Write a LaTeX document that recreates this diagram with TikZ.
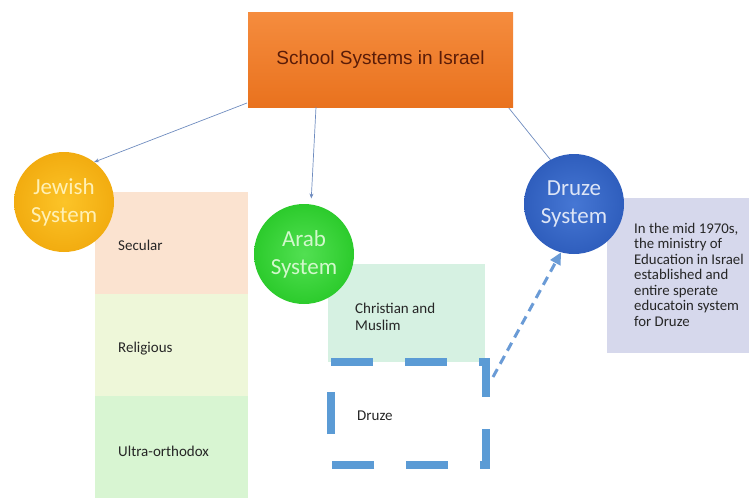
\documentclass[tikz,border=0pt]{standalone}
\usepackage{fontspec}
\setmainfont{Carlito}
\newfontfamily\arialf{Liberation Sans}
\usetikzlibrary{arrows.meta,calc,backgrounds}
\definecolor{topA}{HTML}{F58C3E}
\definecolor{topB}{HTML}{E9721E}
\definecolor{toptext}{HTML}{5A1C08}
\definecolor{secfill}{HTML}{FBE3D0}
\definecolor{relfill}{HTML}{EEF7D9}
\definecolor{ultfill}{HTML}{D8F5D2}
\definecolor{chrfill}{HTML}{D6F1E2}
\definecolor{infofill}{HTML}{D6D8EC}
\definecolor{jewA}{HTML}{FCC428}
\definecolor{jewB}{HTML}{F2AC10}
\definecolor{jewtext}{HTML}{FFF0B4}
\definecolor{arabA}{HTML}{52E052}
\definecolor{arabB}{HTML}{2CCB2C}
\definecolor{arabtext}{HTML}{D2F8CC}
\definecolor{druA}{HTML}{4677D4}
\definecolor{druB}{HTML}{2F5EBD}
\definecolor{drutext}{HTML}{DDE5F6}
\definecolor{conn}{HTML}{6F8CBF}
\definecolor{dashblue}{HTML}{5B9BD5}
\definecolor{dasharr}{HTML}{6A9BD6}
\definecolor{smalltxt}{HTML}{262626}
\begin{document}
\begin{tikzpicture}[x=1pt,y=-1pt,
  boxnode/.style={rectangle, draw=none, inner sep=0pt, outer sep=0pt, anchor=north west},
  smalltext/.style={anchor=west, inner sep=0pt, align=left, text=smalltxt,
    font=\fontsize{15}{17.5}\selectfont},
  circnode/.style={circle, draw=none, minimum size=100pt, inner sep=0pt, outer sep=0pt,
    align=center, font=\fontsize{23}{28}\selectfont},
  connector/.style={draw=conn, line width=0.7pt, -{Stealth[length=5pt,width=4pt]}},
  plainconn/.style={draw=conn, line width=0.7pt},
  drzdash/.style={draw=dashblue, line width=8pt, dash pattern=on 42pt off 32pt},
  dasharrow/.style={draw=dasharr, line width=3pt, dash pattern=on 9pt off 6pt,
    -{Triangle[length=12pt,width=11pt]}}
]
\useasboundingbox (0,0) rectangle (749,498);

% top box
\node[boxnode, top color=topA, bottom color=topB, minimum width=265pt, minimum height=95pt,
  text=toptext, font=\arialf\fontsize{19}{22}\selectfont] (top) at (248,12) {School Systems in Israel};

% Jewish column
\node[boxnode, fill=secfill, minimum width=153pt, minimum height=102pt] (secular) at (95,192) {};
\node[boxnode, fill=relfill, minimum width=153pt, minimum height=102pt] (religious) at (95,294) {};
\node[boxnode, fill=ultfill, minimum width=153pt, minimum height=102pt] (ultra) at (95,396) {};
\node[smalltext] (sectxt) at ($(secular.west)+(23,2)$) {Secular};
\node[smalltext] (reltxt) at ($(religious.west)+(23,4)$) {Religious};
\node[smalltext] (ulttxt) at ($(ultra.west)+(23,4)$) {Ultra-orthodox};

% Arab boxes
\node[boxnode, fill=chrfill, minimum width=157pt, minimum height=98pt] (christian) at (328,264) {};
\node[smalltext] (chrtxt) at ($(christian.west)+(27,4)$) {Christian and\\Muslim};
\node[boxnode, minimum width=155pt, minimum height=103pt] (drzbox) at (331,362) {};
\draw[drzdash] (drzbox.north west) -- (drzbox.north east) -- (drzbox.south east) -- (drzbox.south west) -- cycle;
\node[smalltext] (drztxt) at ($(drzbox.west)+(26,2)$) {Druze};

% info box
\node[boxnode, fill=infofill, minimum width=142pt, minimum height=155pt] (info) at (607,198) {};
\node[smalltext, font=\fontsize{14.8}{15.5}\selectfont] (infotxt) at ($(info.west)+(27,-1)$)
  {In the mid 1970s,\\the ministry of\\Education in Israel\\established and\\entire sperate\\educatoin system\\for Druze};

% circles
\node[circnode, inner color=druA, outer color=druB, text=drutext] (druze) at (574,204) {Druze\\System};
\node[circnode, inner color=jewA, outer color=jewB, text=jewtext] (jew) at (64,202) {Jewish\\System};
\node[circnode, inner color=arabA, outer color=arabB, text=arabtext] (arab) at (304,254) {Arab\\System};

% connectors
\coordinate (topjew) at (247,103);
\coordinate (toparab) at (316,107);
\coordinate (topdr) at (508,107);
\begin{scope}[on background layer]
\draw[plainconn] (topdr) -- (druze.118);
\end{scope}
\draw[connector] (topjew) -- (jew.53);
\draw[connector, shorten >=6pt] (toparab) -- (arab.82);

\coordinate (dstart) at (493,377);
\draw[dasharrow] (dstart) -- (druze.255);
\end{tikzpicture}
\end{document}
